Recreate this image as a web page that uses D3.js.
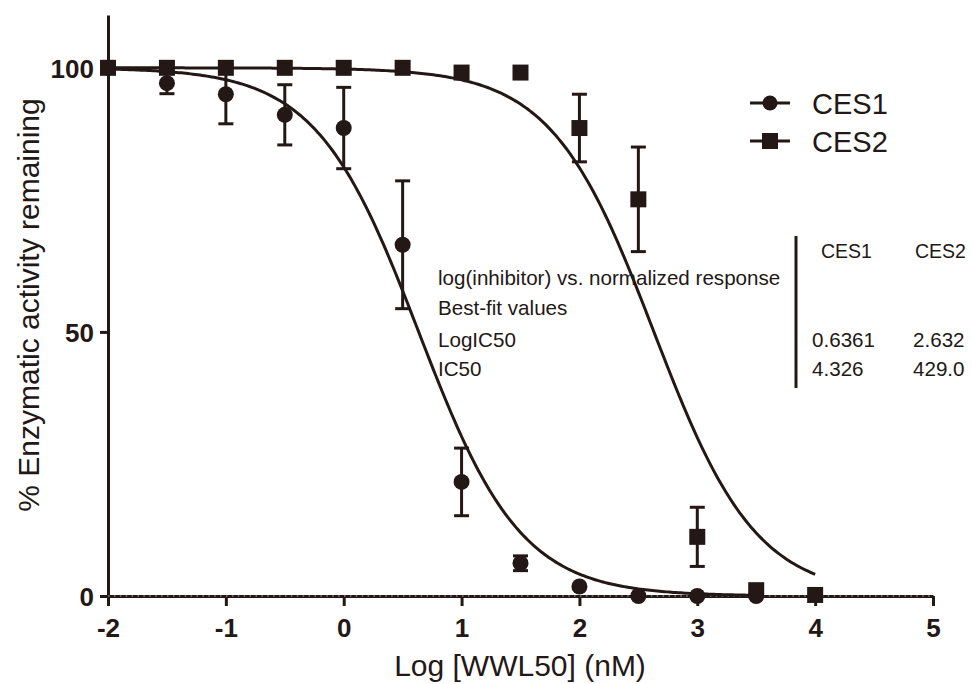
<!DOCTYPE html>
<html>
<head>
<meta charset="utf-8">
<script src="https://cdn.jsdelivr.net/npm/d3@7"></script>
<style>
  html, body { margin: 0; padding: 0; background: #fff; }
  svg { display: block; }
  text { font-family: "Liberation Sans", Arial, Helvetica, sans-serif; fill: #231815; }
</style>
</head>
<body>
<svg id="chart" width="972" height="684"></svg>
<script>
// Concentrations (log nM)
const logConcCES1 = [-2, -1.5, -1, -0.5, 0, 0.5, 1, 1.5, 2, 2.5, 3, 3.5];
const logConcCES2 = [-2, -1.5, -1, -0.5, 0, 0.5, 1, 1.5, 2, 2.5, 3, 3.5, 4];

// % enzymatic activity remaining (mean) and error (SD)
const ces1Mean = [100, 97.1, 95.0, 91.1, 88.6, 66.5, 21.6, 6.2, 1.8, 0, 0, 0];
const ces1Err  = [0, 2.0, 5.6, 5.7, 7.7, 12.1, 6.4, 1.4, 0, 0, 0, 0];
const ces2Mean = [100, 100, 100, 100, 100, 100, 99.1, 99.1, 88.6, 75.1, 11.2, 1.1, 0.2];
const ces2Err  = [0, 0, 0, 0, 0, 0, 0, 0, 6.4, 9.9, 5.6, 0, 0];

// Best-fit results, log(inhibitor) vs. normalized response
const seriesNames = ["CES1", "CES2"];
const logIC50 = [0.6361, 2.632];
const ic50Labels = ["4.326", "429.0"];
const logIC50Labels = ["0.6361", "2.632"];
const fitRange = [[-2, 3.5], [-2, 4]];

const xTicks = [-2, -1, 0, 1, 2, 3, 4, 5];
const yTicks = [0, 50, 100];

const ink = "#231815";
const svg = d3.select("#chart");

const x = d3.scaleLinear().domain([-2, 5]).range([108, 933]);
const y = d3.scaleLinear().domain([0, 110]).range([596, 15]);

// Y axis
const yAxis = svg.append("g")
  .attr("transform", `translate(${x(-2)},0)`)
  .call(d3.axisLeft(y).tickValues(yTicks).tickFormat(d => String(d))
    .tickSize(8).tickSizeOuter(0).tickPadding(6));
yAxis.select(".domain").attr("stroke", ink).attr("stroke-width", 3);
yAxis.selectAll(".tick line").attr("stroke", ink).attr("stroke-width", 3);
yAxis.selectAll(".tick text")
  .attr("fill", ink).attr("font-size", 26).attr("font-weight", "bold")
  .attr("font-family", "'Liberation Sans', Arial, sans-serif")
  .attr("dy", "0.36em");

// X axis
const xAxis = svg.append("g")
  .attr("transform", `translate(0,${y(0)})`)
  .call(d3.axisBottom(x).tickValues(xTicks).tickFormat(d => String(d))
    .tickSize(10).tickSizeOuter(0).tickPadding(12));
xAxis.select(".domain").attr("stroke", ink).attr("stroke-width", 3);
xAxis.selectAll(".tick line").attr("stroke", ink).attr("stroke-width", 3);
xAxis.selectAll(".tick text")
  .attr("fill", ink).attr("font-size", 26).attr("font-weight", "bold")
  .attr("font-family", "'Liberation Sans', Arial, sans-serif")
  .attr("dy", "0.72em");

// dotted baseline along y = 0
svg.append("line")
  .attr("x1", x(-2)).attr("x2", x(5)).attr("y1", y(0)).attr("y2", y(0))
  .attr("stroke", "#b8b2b1").attr("stroke-width", 1)
  .attr("stroke-dasharray", "1.5,4.4");

// Fitted curves (Hill slope -1)
const fit = (lx, li) => 100 / (1 + Math.pow(10, lx - li));
const line = d3.line().x(d => x(d[0])).y(d => y(d[1])).curve(d3.curveLinear);
logIC50.forEach((li, i) => {
  const [a, b] = fitRange[i];
  const pts = d3.range(a, b + 0.001, 0.02).map(v => [v, fit(v, li)]);
  svg.append("path").datum(pts)
    .attr("d", line).attr("fill", "none")
    .attr("stroke", ink).attr("stroke-width", 3);
});

// Error bars
function errorBars(xs, means, errs) {
  const g = svg.append("g").attr("stroke", ink).attr("stroke-width", 3);
  xs.forEach((lx, i) => {
    const e = errs[i];
    if (!e) return;
    const cx = x(lx), top = y(means[i] + e), bot = y(means[i] - e);
    g.append("line").attr("x1", cx).attr("x2", cx).attr("y1", top).attr("y2", bot);
    g.append("line").attr("x1", cx - 7.5).attr("x2", cx + 7.5).attr("y1", top).attr("y2", top);
    g.append("line").attr("x1", cx - 7.5).attr("x2", cx + 7.5).attr("y1", bot).attr("y2", bot);
  });
}
errorBars(logConcCES1, ces1Mean, ces1Err);
errorBars(logConcCES2, ces2Mean, ces2Err);

// Markers
svg.append("g").selectAll("circle")
  .data(logConcCES1.map((lx, i) => [lx, ces1Mean[i]]))
  .join("circle")
  .attr("cx", d => x(d[0])).attr("cy", d => y(d[1])).attr("r", 8)
  .attr("fill", ink);

svg.append("g").selectAll("rect")
  .data(logConcCES2.map((lx, i) => [lx, ces2Mean[i]]))
  .join("rect")
  .attr("x", d => x(d[0]) - 8).attr("y", d => y(d[1]) - 8)
  .attr("width", 16).attr("height", 16)
  .attr("fill", ink);

// Axis titles
svg.append("text")
  .attr("x", 520).attr("y", 676).attr("text-anchor", "middle")
  .attr("font-size", 30)
  .text("Log [WWL50] (nM)");

svg.append("text")
  .attr("transform", "translate(39,305) rotate(-90)")
  .attr("text-anchor", "middle")
  .attr("font-size", 30)
  .text("% Enzymatic activity remaining");

// Legend
const legendY = [103, 141];
seriesNames.forEach((name, i) => {
  const g = svg.append("g");
  g.append("line").attr("x1", 750).attr("x2", 790)
    .attr("y1", legendY[i]).attr("y2", legendY[i])
    .attr("stroke", ink).attr("stroke-width", 3);
  if (i === 0) {
    g.append("circle").attr("cx", 770).attr("cy", legendY[i]).attr("r", 7.5).attr("fill", ink);
  } else {
    g.append("rect").attr("x", 762).attr("y", legendY[i] - 8)
      .attr("width", 16).attr("height", 16).attr("fill", ink);
  }
  g.append("text").attr("x", 812).attr("y", legendY[i] + 11)
    .attr("font-size", 29).text(name);
});

// Best-fit results table
const rowLabels = ["log(inhibitor) vs. normalized response", "Best-fit values", "LogIC50", "IC50"];
const rowY = [285, 315, 347, 376];
rowLabels.forEach((t, i) => {
  svg.append("text").attr("x", 438).attr("y", rowY[i]).attr("font-size", 20.6).text(t);
});
svg.append("line").attr("x1", 796).attr("x2", 796).attr("y1", 236).attr("y2", 388)
  .attr("stroke", ink).attr("stroke-width", 3);
const colX = [812, 913];
seriesNames.forEach((name, i) => {
  svg.append("text").attr("x", colX[i] + (i === 0 ? 9 : 2)).attr("y", 258)
    .attr("font-size", 19.5).text(name);
  svg.append("text").attr("x", colX[i]).attr("y", rowY[2]).attr("font-size", 20.6).text(logIC50Labels[i]);
  svg.append("text").attr("x", colX[i]).attr("y", rowY[3]).attr("font-size", 20.6).text(ic50Labels[i]);
});
</script>
</body>
</html>
